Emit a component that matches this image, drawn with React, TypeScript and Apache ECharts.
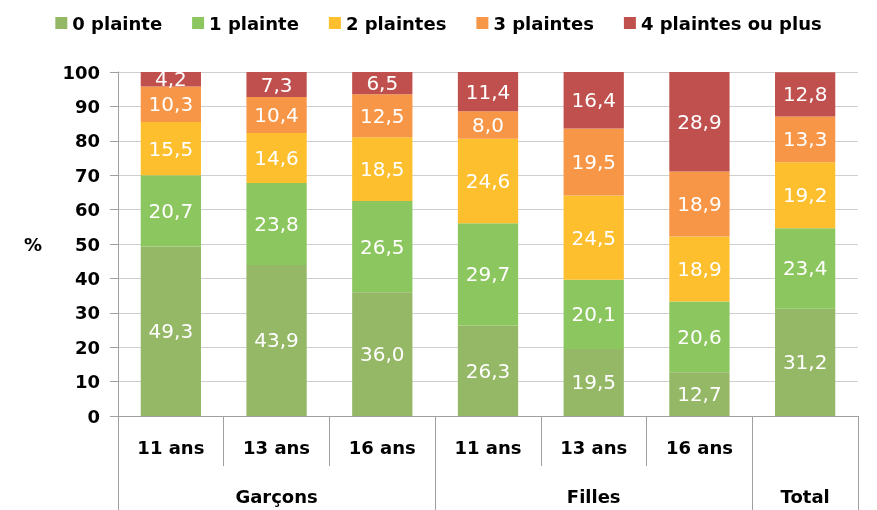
import React, { useEffect, useRef } from "react";
import * as echarts from "echarts";

const ageLabels = ["11 ans", "13 ans", "16 ans", "11 ans", "13 ans", "16 ans", ""];
const groupLabels = ["", "Garçons", "", "", "Filles", "", "Total"];
const seriesNames = ["0 plainte", "1 plainte", "2 plaintes", "3 plaintes", "4 plaintes ou plus"];
const zeroComplaint = [49.3, 43.9, 36.0, 26.3, 19.5, 12.7, 31.2];
const oneComplaint = [20.7, 23.8, 26.5, 29.7, 20.1, 20.6, 23.4];
const twoComplaints = [15.5, 14.6, 18.5, 24.6, 24.5, 18.9, 19.2];
const threeComplaints = [10.3, 10.4, 12.5, 8.0, 19.5, 18.9, 13.3];
const fourPlusComplaints = [4.2, 7.3, 6.5, 11.4, 16.4, 28.9, 12.8];
const colors = ["#95b866", "#8cc65f", "#fdbf2d", "#f79646", "#c0504d"];

const FONT = "DejaVu Sans";

export default function App() {
  const ref = useRef<HTMLDivElement>(null);
  useEffect(() => {
    if (!ref.current) return;
    const chart = echarts.init(ref.current, undefined, { renderer: "svg" });
    const allData = [zeroComplaint, oneComplaint, twoComplaints, threeComplaints, fourPlusComplaints];
    const axisColor = "#a0a0a0";
    chart.setOption({
      animation: false,
      color: colors,
      textStyle: { fontFamily: FONT },
      legend: {
        top: 9,
        left: "center",
        itemWidth: 12,
        itemHeight: 12,
        itemGap: 30,
        icon: "rect",
        textStyle: { fontFamily: FONT, fontWeight: "bold", fontSize: 18, color: "#000" },
        data: seriesNames,
      },
      grid: { left: 118, right: 19, top: 72, bottom: 94, containLabel: false },
      xAxis: [
        {
          type: "category",
          data: ageLabels,
          position: "bottom",
          axisLine: { show: true, lineStyle: { color: axisColor } },
          axisTick: { show: true, interval: 0, length: 50, lineStyle: { color: axisColor } },
          axisLabel: {
            interval: 0,
            margin: 22,
            fontFamily: FONT,
            fontWeight: "bold",
            fontSize: 18,
            color: "#000",
          },
        },
        {
          type: "category",
          data: groupLabels,
          position: "bottom",
          axisLine: { show: true, lineStyle: { color: axisColor } },
          axisTick: {
            show: true,
            interval: (i: number) => i === 0 || i === 3 || i === 6,
            length: 100,
            lineStyle: { color: axisColor },
          },
          axisLabel: {
            interval: 0,
            margin: 71,
            fontFamily: FONT,
            fontWeight: "bold",
            fontSize: 18,
            color: "#000",
          },
        },
      ],
      yAxis: {
        type: "value",
        min: 0,
        max: 100,
        interval: 10,
        name: "%",
        nameLocation: "middle",
        nameRotate: 0,
        nameGap: 76,
        nameTextStyle: { fontFamily: FONT, fontWeight: "bold", fontSize: 18, color: "#000" },
        axisLine: { show: true, lineStyle: { color: axisColor } },
        axisTick: { show: true, length: 8, lineStyle: { color: axisColor } },
        splitLine: { show: true, lineStyle: { color: "#cfcfcf" } },
        axisLabel: {
          margin: 18,
          fontFamily: FONT,
          fontWeight: "bold",
          fontSize: 18,
          color: "#000",
        },
      },
      series: seriesNames.map((name, k) => ({
        name,
        type: "bar",
        stack: "total",
        xAxisIndex: 0,
        barWidth: "57%",
        data: allData[k],
        itemStyle: { color: colors[k] },
        label: {
          show: true,
          position: "inside",
          color: "#fff",
          fontFamily: FONT,
          fontSize: 20,
          formatter: (p: any) => Number(p.value).toFixed(1).replace(".", ","),
        },
      })),
    });
    return () => chart.dispose();
  }, []);
  return (
    <div
      ref={ref}
      style={{ position: "fixed", left: 0, top: 0, width: 877, height: 510 }}
    />
  );
}
